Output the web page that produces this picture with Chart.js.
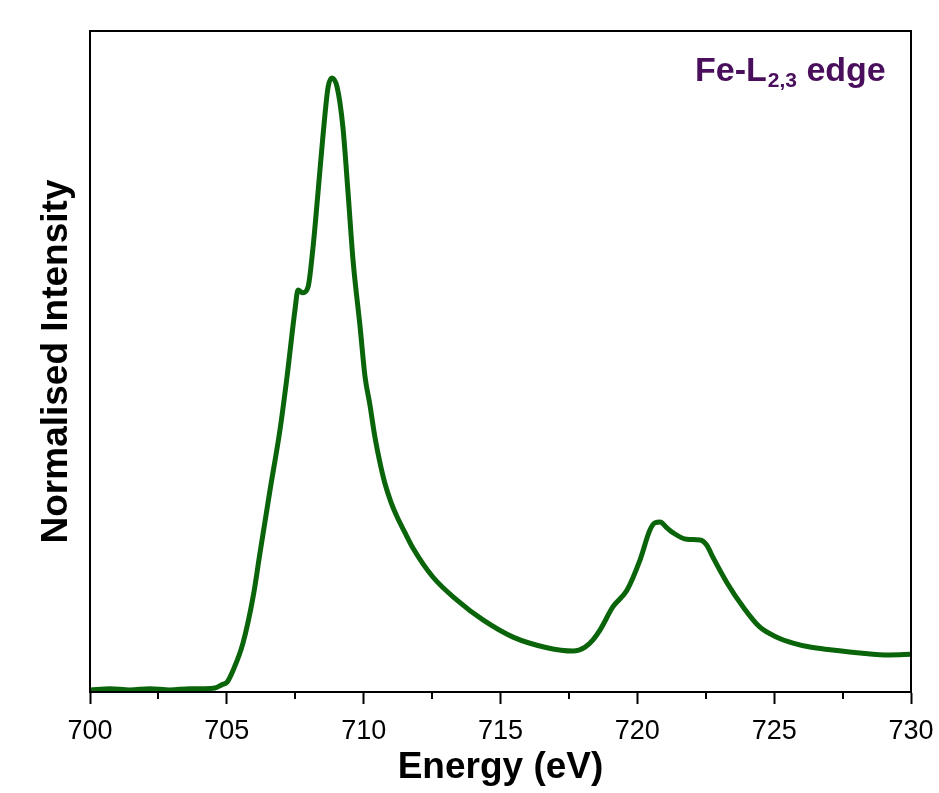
<!DOCTYPE html>
<html lang="en">
<head>
    <meta charset="UTF-8">
    <title>Fe-L2,3 edge</title>
    <script src="https://cdn.jsdelivr.net/npm/chart.js"></script>
    <style>
        body { margin: 0; background: #fff; }
    </style>
</head>
<body>

<canvas id="edgeChart" width="939" height="793"></canvas>

<script>
    // energy loss (eV) and normalised intensity
    const energy = [
        700.00, 700.73, 701.46, 702.19, 702.92, 703.65, 704.20, 704.57, 704.82, 705.01,
        705.23, 705.59, 705.96, 706.21, 706.58, 706.94, 707.20, 707.49, 707.60, 707.78,
        707.97, 708.15, 708.33, 708.51, 708.70, 708.84, 709.03, 709.24, 709.43, 709.61,
        709.87, 710.05, 710.23, 710.41, 710.60, 710.78, 711.00, 711.22, 711.51, 711.80,
        712.53, 713.41, 714.36, 715.46, 716.70, 717.65, 718.09, 718.38, 718.64, 719.11,
        719.62, 720.10, 720.46, 720.65, 720.83, 721.09, 721.30, 721.81, 722.29, 722.54,
        722.76, 723.28, 723.86, 724.48, 725.10, 725.69, 726.31, 727.04, 728.14, 729.23,
        730.00
    ];
    const intensity = [
        0.003, 0.005, 0.003, 0.005, 0.003, 0.005, 0.005, 0.006, 0.011, 0.015,
        0.033, 0.074, 0.144, 0.210, 0.306, 0.396, 0.477, 0.578, 0.608, 0.604,
        0.613, 0.673, 0.755, 0.840, 0.915, 0.929, 0.915, 0.855, 0.755, 0.654,
        0.552, 0.477, 0.434, 0.386, 0.346, 0.315, 0.287, 0.265, 0.241, 0.218,
        0.174, 0.139, 0.109, 0.083, 0.067, 0.062, 0.068, 0.079, 0.094, 0.129,
        0.154, 0.200, 0.245, 0.256, 0.257, 0.248, 0.241, 0.231, 0.230, 0.222,
        0.204, 0.165, 0.129, 0.098, 0.083, 0.074, 0.068, 0.064, 0.059, 0.056,
        0.057
    ];
    const majorTicks = [700, 705, 710, 715, 720, 725, 730];
    const minorTicks = [702.5, 707.5, 712.5, 717.5, 722.5, 727.5];

    const points = energy.map((e, i) => ({ x: e, y: intensity[i] }));

    // frame, minor ticks and the edge label
    const decorations = {
        id: 'decorations',
        afterDraw(chart) {
            const { ctx, chartArea } = chart;
            const xScale = chart.scales.x;
            ctx.save();
            ctx.strokeStyle = '#000';
            ctx.lineWidth = 2;
            ctx.strokeRect(chartArea.left, chartArea.top, chartArea.right - chartArea.left, chartArea.bottom - chartArea.top);

            ctx.beginPath();
            minorTicks.forEach(v => {
                const px = Math.round(xScale.getPixelForValue(v));
                ctx.moveTo(px, chartArea.bottom);
                ctx.lineTo(px, chartArea.bottom + 7);
            });
            ctx.stroke();

            // Fe-L2,3 edge
            ctx.fillStyle = '#4a0f5c';
            ctx.textBaseline = 'alphabetic';
            let tx = 695;
            const ty = 81;
            ctx.font = 'bold 34px Arial, "Liberation Sans", sans-serif';
            ctx.fillText('Fe-L', tx, ty);
            tx += ctx.measureText('Fe-L').width + 1;
            ctx.font = 'bold 21px Arial, "Liberation Sans", sans-serif';
            ctx.fillText('2,3', tx, ty + 6);
            tx += ctx.measureText('2,3').width;
            ctx.font = 'bold 34px Arial, "Liberation Sans", sans-serif';
            ctx.fillText(' edge', tx, ty);
            ctx.restore();
        }
    };

    new Chart(document.getElementById('edgeChart').getContext('2d'), {
        type: 'line',
        data: {
            datasets: [{
                data: points,
                borderColor: '#0a640a',
                borderWidth: 5,
                pointRadius: 0,
                fill: false,
                cubicInterpolationMode: 'monotone',
            }],
        },
        options: {
            responsive: false,
            animation: false,
            layout: { padding: { top: 31, right: 28, left: 0, bottom: 0 } },
            plugins: {
                legend: { display: false },
                tooltip: { enabled: false },
            },
            scales: {
                x: {
                    type: 'linear',
                    min: 700,
                    max: 730,
                    afterBuildTicks: scale => {
                        scale.ticks = majorTicks.map(v => ({ value: v }));
                    },
                    afterFit: scale => {
                        scale.height = 101;
                        scale.paddingLeft = 0;
                        scale.paddingRight = 0;
                    },
                    ticks: {
                        color: '#000',
                        padding: 11,
                        font: { family: 'Arial, "Liberation Sans", sans-serif', size: 27 },
                        maxRotation: 0,
                    },
                    grid: {
                        drawOnChartArea: false,
                        drawTicks: true,
                        tickLength: 12,
                        tickWidth: 2,
                        tickColor: '#000',
                    },
                    border: { color: '#000', width: 2 },
                    title: {
                        display: true,
                        text: 'Energy (eV)',
                        color: '#000',
                        font: { family: 'Arial, "Liberation Sans", sans-serif', size: 37, weight: 'bold', lineHeight: 1 },
                        padding: { top: 0, bottom: 7 },
                    },
                },
                y: {
                    min: 0,
                    max: 1,
                    afterFit: scale => { scale.width = 90; },
                    ticks: { display: false },
                    grid: { display: false, drawTicks: false },
                    border: { color: '#000', width: 2 },
                    title: {
                        display: true,
                        text: 'Normalised Intensity',
                        color: '#000',
                        font: { family: 'Arial, "Liberation Sans", sans-serif', size: 37, weight: 'bold', lineHeight: 1 },
                        padding: { top: 38, bottom: 0 },
                    },
                },
            },
        },
        plugins: [decorations],
    });
</script>

</body>
</html>
